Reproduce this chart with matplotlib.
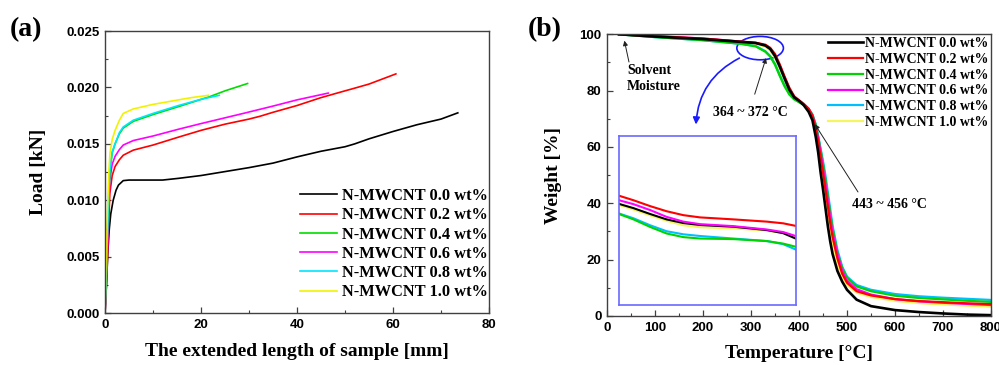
import matplotlib
matplotlib.use('Agg')
import matplotlib.pyplot as plt
from matplotlib.patches import Ellipse, FancyArrowPatch
from matplotlib.ticker import MultipleLocator, FormatStrFormatter

# ---------------- data: panel (a) tensile curves ----------------
labels = ['N-MWCNT 0.0 wt%', 'N-MWCNT 0.2 wt%', 'N-MWCNT 0.4 wt%',
          'N-MWCNT 0.6 wt%', 'N-MWCNT 0.8 wt%', 'N-MWCNT 1.0 wt%']
colors_a = ['#000000', '#ff0000', '#00dd00', '#ff00ff', '#00e5ff', '#f2f200']
colors_b = ['#000000', '#ff0000', '#00d400', '#ff00ff', '#00bfff', '#f5f560']

a_x_00 = [0, 0.3, 0.6, 0.9, 1.2, 1.7, 2.3, 2.8, 3.8, 5, 8, 12, 15.3, 20, 25, 30, 35, 40, 45, 50, 52, 55, 60, 65, 70, 73.5]
a_y_00 = [0, 2.5, 5.5, 7.5, 8.8, 10.0, 10.9, 11.35, 11.75, 11.8, 11.8, 11.8, 11.95, 12.2, 12.55, 12.9, 13.3, 13.85, 14.35, 14.75, 15.0, 15.45, 16.1, 16.7, 17.2, 17.75]
a_x_02 = [0, 0.3, 0.6, 1.0, 1.5, 2.1, 3.0, 3.8, 5.9, 10, 15.3, 20, 25, 30, 32.3, 35, 40, 45, 50, 51.7, 55, 60.6]
a_y_02 = [0, 2.5, 6, 10.6, 12.2, 13.0, 13.6, 14.0, 14.45, 14.9, 15.6, 16.2, 16.75, 17.2, 17.45, 17.8, 18.4, 19.1, 19.7, 19.9, 20.3, 21.2]
a_x_04 = [0, 0.3, 0.6, 1.0, 1.5, 2.1, 3.0, 3.8, 5.9, 10, 15.3, 21.9, 25, 29.7]
a_y_04 = [0, 4, 8.5, 12.4, 14.2, 15.0, 15.9, 16.4, 17.0, 17.6, 18.3, 19.2, 19.7, 20.35]
a_x_06 = [0, 0.3, 0.6, 1.0, 1.5, 2.1, 3.0, 3.8, 5.9, 10, 15.3, 20, 28.8, 35, 40, 46.5]
a_y_06 = [0, 3, 7, 11.8, 13.2, 13.9, 14.5, 14.9, 15.3, 15.7, 16.3, 16.8, 17.7, 18.35, 18.9, 19.5]
a_x_08 = [0, 0.3, 0.6, 1.0, 1.5, 2.1, 3.0, 3.8, 5.9, 10, 15.3, 20, 23.8]
a_y_08 = [0, 4, 8.7, 12.7, 14.3, 15.0, 16.0, 16.5, 17.1, 17.7, 18.4, 18.95, 19.3]
a_x_10 = [0, 0.2, 0.5, 0.8, 1.04, 1.5, 2.1, 3.0, 3.8, 5.9, 10, 15.3, 18, 21.5]
a_y_10 = [0, 4, 9, 12.5, 14.2, 15.4, 16.2, 17.1, 17.7, 18.1, 18.5, 18.9, 19.1, 19.3]

# ---------------- data: panel (b) TGA curves ----------------
tga_T = [25, 100, 200, 280, 310, 330, 340, 350, 360, 370, 380, 390, 400, 410, 420, 428, 435,
         440, 445, 450, 455, 460, 465, 470, 480, 490, 500, 520, 550, 600, 650, 700, 750, 800]
w_00 = [100, 99.2, 98.3, 97.3, 96.9, 96.0, 94.8, 92.3, 88.5, 84.3, 80.3, 77.6, 76.4, 74.8, 72.5, 69.5, 63.5,
        58, 51, 45, 38.5, 32, 26.5, 22, 16, 12.2, 9.3, 5.8, 3.5, 2.1, 1.4, 0.9, 0.5, 0.3]
w_02 = [100, 99.3, 98.5, 97.4, 97.0, 96.3, 95.2, 93.0, 89.3, 85.0, 81.0, 78.0, 76.6, 75.3, 73.6, 71, 66.5,
        62, 56.5, 51, 45, 39, 33, 28, 20.5, 15, 11.8, 8.8, 7.3, 6.0, 5.3, 4.9, 4.5, 4.2]
w_04 = [100, 99.0, 97.9, 96.6, 95.7, 93.8, 92.1, 89.2, 85.2, 81.5, 78.6, 76.9, 75.9, 75.0, 73.5, 71.5, 67.8,
        63.5, 59, 54, 48.5, 42.5, 36.5, 31, 22.5, 17, 13.5, 10.5, 8.8, 7.2, 6.4, 5.9, 5.4, 5.0]
w_06 = [100, 99.4, 98.5, 97.4, 96.9, 96.1, 95.0, 92.6, 88.9, 84.7, 80.7, 77.8, 76.5, 75.2, 73.6, 71.2, 67,
        63, 58, 52.5, 47, 41, 35, 29.5, 22, 16, 12.5, 9.5, 7.6, 6.0, 5.2, 4.7, 4.3, 3.9]
w_08 = [100, 99.0, 97.9, 96.6, 95.8, 94.0, 92.3, 89.5, 85.5, 81.8, 78.8, 77.0, 76.0, 75.0, 73.5, 71.5, 68,
        64, 59.5, 55, 50, 44, 38, 32, 23.5, 17.5, 14, 11, 9.3, 7.8, 7.0, 6.5, 6.1, 5.7]
w_10 = [100, 99.2, 98.2, 97.1, 96.6, 95.6, 94.3, 91.6, 87.7, 83.6, 79.8, 77.3, 76.2, 74.9, 73.0, 70.2, 65,
        60, 54, 48, 42, 36, 30, 25, 18.5, 13.8, 11, 8.3, 6.8, 5.4, 4.6, 4.1, 3.7, 3.3]

# inset (magnified view drawn inside the blue box)
inset_x = [25, 55, 90, 124, 159, 194, 263, 333, 367, 393]
ins_00 = [39.8, 38.3, 36.2, 34.3, 33.0, 32.3, 31.7, 30.5, 29.4, 27.5]
ins_02 = [42.7, 41.1, 39.0, 37.2, 35.8, 35.0, 34.3, 33.5, 32.9, 32.0]
ins_04 = [36.2, 34.3, 31.6, 29.3, 28.0, 27.5, 27.3, 26.6, 25.7, 24.6]
ins_06 = [41.1, 39.7, 37.6, 35.2, 33.5, 32.6, 31.9, 30.7, 29.8, 28.4]
ins_08 = [36.4, 34.7, 32.2, 30.1, 29.0, 28.4, 27.5, 26.6, 25.5, 23.6]
ins_10 = [39.4, 37.8, 35.7, 33.8, 32.2, 31.5, 31.1, 30.3, 29.5, 28.2]

# ---------------- figure ----------------
W, H = 999, 365
fig = plt.figure(figsize=(W / 100, H / 100), dpi=100)
SERIF = 'Liberation Serif'
SANS = 'Liberation Sans'

axa = fig.add_axes([105 / W, 1 - 313.3 / H, 384 / W, 282.3 / H])
axb = fig.add_axes([607 / W, 1 - 316 / H, 384 / W, 281.7 / H])

def style_axes(ax):
    for s in ax.spines.values():
        s.set_color('#404040')
        s.set_linewidth(1.0)
    ax.tick_params(which='both', direction='in', top=False, right=False, color='#404040')
    ax.tick_params(which='major', length=4, width=0.9, pad=4)
    ax.tick_params(which='minor', length=2.5, width=0.8)
    for lab in ax.get_xticklabels() + ax.get_yticklabels():
        lab.set_fontfamily(SANS)
        lab.set_fontweight('bold')
        lab.set_fontsize(9.5)

# ---- panel (a)
a_xs = [a_x_00, a_x_02, a_x_04, a_x_06, a_x_08, a_x_10]
a_ys = [a_y_00, a_y_02, a_y_04, a_y_06, a_y_08, a_y_10]
order_a = [0, 1, 3, 2, 4, 5]
lines_a = {}
for i in order_a:
    ln, = axa.plot(a_xs[i], [v / 1000 for v in a_ys[i]], color=colors_a[i], lw=1.2, label=labels[i])
    lines_a[i] = ln
axa.set_xlim(0, 80)
axa.set_ylim(0, 0.025)
axa.xaxis.set_major_locator(MultipleLocator(20))
axa.xaxis.set_minor_locator(MultipleLocator(10))
axa.yaxis.set_major_locator(MultipleLocator(0.005))
axa.yaxis.set_minor_locator(MultipleLocator(0.0025))
axa.yaxis.set_major_formatter(FormatStrFormatter('%.3f'))
style_axes(axa)
axa.set_xlabel('The extended length of sample [mm]', fontfamily=SERIF, fontweight='bold', fontsize=14)
axa.set_ylabel('Load [kN]', fontfamily=SERIF, fontweight='bold', fontsize=14)
axa.xaxis.set_label_coords(0.5, -0.105)
axa.yaxis.set_label_coords(-0.151, 0.5)
axa.legend([lines_a[i] for i in range(6)], labels, loc='upper left', bbox_to_anchor=(0.508, 0.444),
           frameon=False, borderpad=0, borderaxespad=0, handlelength=2.25, handletextpad=0.3,
           labelspacing=0.2, prop={'family': SERIF, 'weight': 'bold', 'size': 11.8})

# ---- panel (b)
ws = [w_00, w_02, w_04, w_06, w_08, w_10]
lines_b = {}
for i in [5, 4, 2, 3, 1, 0]:
    ln, = axb.plot(tga_T, ws[i], color=colors_b[i], lw=1.9 if i == 0 else 1.6, label=labels[i])
    lines_b[i] = ln
axb.set_xlim(0, 800)
axb.set_ylim(0, 100)
axb.xaxis.set_major_locator(MultipleLocator(100))
axb.xaxis.set_minor_locator(MultipleLocator(50))
axb.yaxis.set_major_locator(MultipleLocator(20))
axb.yaxis.set_minor_locator(MultipleLocator(10))
style_axes(axb)
axb.set_xlabel('Temperature [°C]', fontfamily=SERIF, fontweight='bold', fontsize=14)
axb.set_ylabel('Weight [%]', fontfamily=SERIF, fontweight='bold', fontsize=14)
axb.xaxis.set_label_coords(0.5, -0.103)
axb.yaxis.set_label_coords(-0.117, 0.5)
axb.legend([lines_b[i] for i in range(6)], labels, loc='upper left', bbox_to_anchor=(0.5755, 0.99),
           frameon=False, borderpad=0, borderaxespad=0, handlelength=2.5, handletextpad=0.15,
           labelspacing=0.2, prop={'family': SERIF, 'weight': 'bold', 'size': 10})

# inset box
ins = axb.inset_axes([25, 4, 368, 60], transform=axb.transData)
ins_ys = [ins_00, ins_02, ins_04, ins_06, ins_08, ins_10]
for i in [4, 2, 5, 0, 3, 1]:
    ins.plot(inset_x, ins_ys[i], color=colors_b[i], lw=1.5)
ins.set_xlim(25, 393)
ins.set_ylim(4, 64)
ins.set_xticks([])
ins.set_yticks([])
for s in ins.spines.values():
    s.set_color('#6a6aff')
    s.set_linewidth(1.2)

# annotations
txtkw = dict(fontfamily=SERIF, fontweight='bold', fontsize=10)
axb.text(42, 89.5, 'Solvent\nMoisture', ha='left', va='top', linespacing=1.35, **txtkw)
axb.annotate('', xy=(35, 98.7), xytext=(47, 89.2),
             arrowprops=dict(arrowstyle='-|>', color='#202020', lw=0.7, mutation_scale=7))
axb.add_patch(Ellipse((319, 95.1), 97, 8.3, fill=False, edgecolor='#1a1aff', lw=1.2))
axb.add_patch(FancyArrowPatch((281, 92), (185, 67), connectionstyle='arc3,rad=0.3',
                              arrowstyle='-|>', color='#1a1aff', lw=1.2, mutation_scale=10))
axb.text(298, 72.4, '364 ~ 372 °C', ha='center', va='center', **txtkw)
axb.annotate('', xy=(333, 92.5), xytext=(306, 77.8),
             arrowprops=dict(arrowstyle='-|>', color='#202020', lw=0.7, mutation_scale=7))
axb.text(589, 39.7, '443 ~ 456 °C', ha='center', va='center', **txtkw)
axb.annotate('', xy=(430, 68.9), xytext=(526, 43.2),
             arrowprops=dict(arrowstyle='-|>', color='#202020', lw=0.7, mutation_scale=7))

# panel letters
fig.text(26 / W, 1 - 30 / H, '(a)', ha='center', va='center', fontfamily=SERIF, fontweight='bold', fontsize=20)
fig.text(545 / W, 1 - 30 / H, '(b)', ha='center', va='center', fontfamily=SERIF, fontweight='bold', fontsize=20)

fig.savefig('out.png', dpi=100)
